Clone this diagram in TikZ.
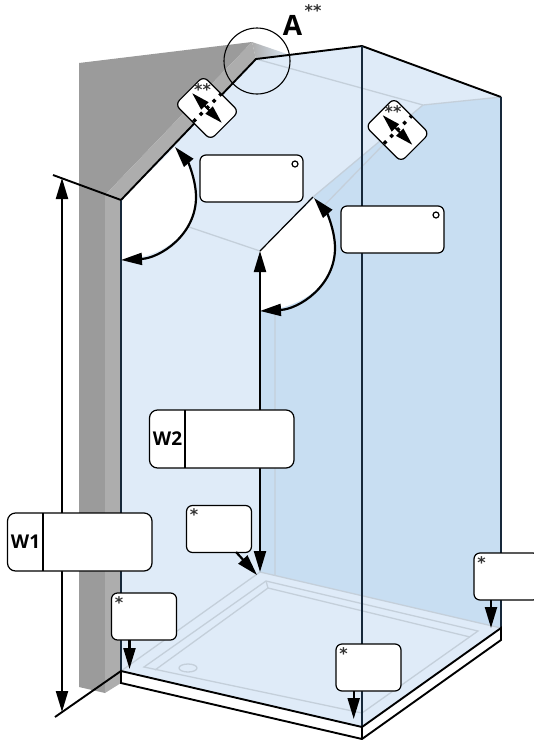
\documentclass[tikz,border=0pt]{standalone}
\usepackage{fontspec}
\setmainfont{Open Sans}
\newfontfamily\etoiles{DejaVu Sans}
\usetikzlibrary{arrows.meta}
\definecolor{murfonce}{HTML}{9B9B9B}
\definecolor{murclair}{HTML}{ADADAD}
\definecolor{verreclair}{HTML}{DFEBF8}
\definecolor{verrefonce}{HTML}{C8DEF2}
\definecolor{trait}{HTML}{C4CFDA}
\definecolor{arete}{HTML}{16283A}
\begin{document}
\begin{tikzpicture}[x=1pt,y=-1pt]
	\tikzstyle{fleche}=[->,>={Triangle[length=21pt,width=12pt]},line width=2.2pt]
	\tikzstyle{double}=[<->,>={Triangle[length=18pt,width=10pt]},line width=1.8pt,shorten <=4pt,shorten >=4pt]
	\tikzstyle{bord}=[line width=1.9pt]
	\tikzstyle{fin}=[line width=1.3pt,color=arete]
	\tikzstyle{gris}=[line width=1.3pt,color=trait]
	\tikzstyle{cadre}=[draw=black,fill=white,line width=1.2pt,rounded corners=6pt,inner sep=0pt,outer sep=0pt]
	\tikzstyle{titre}=[font=\bfseries\fontsize{19}{19}\selectfont,inner sep=0pt]
	\tikzstyle{etoile}=[font=\etoiles\bfseries\fontsize{16}{16}\selectfont,text=black!80,inner sep=0pt]
	\tikzstyle{anneau}=[circle,draw=black,fill=white,line width=1.2pt,minimum size=6pt,inner sep=0pt]
	%
	\useasboundingbox (0,0) rectangle (534,740);
	%
	\coordinate (Ga) at (121,200);\coordinate (Gb) at (256,59);\coordinate (Gc) at (362,46);
	\coordinate (Gd) at (501,97);\coordinate (Ge) at (501,628);\coordinate (Gf) at (362,727);
	\coordinate (Gg) at (121,671);\coordinate (Bd) at (501,640);\coordinate (Bf) at (362,739);
	\coordinate (Bg) at (121,683);\coordinate (Porte) at (260,251);\coordinate (PorteB) at (313,197);
	\coordinate (Fond) at (423,105);\coordinate (Sol) at (260,572);
	\coordinate (HautA) at (53,175);\coordinate (BasA) at (55,717);
	\coordinate (TipHaut) at (62,178);\coordinate (TipBas) at (62,712);
	\coordinate (TipS) at (257,575);\coordinate (TipB) at (129.5,669);
	\coordinate (TipC) at (353.7,719);\coordinate (TipD) at (491,628);
	\coordinate (DepartS) at (236,552);
	%
	\fill[murfonce] (79,63)--(252,42)--(105,195)--(105,693)--(79,687)--cycle;
	\fill[murclair] (252,42)--(Gb)--(Ga)--(Bg)--(105,693)--(105,195)--cycle;
	\fill[verreclair] (Ga)--(Gb)--(Gc)--(Gd)--(Ge)--(Gf)--(Gg)--cycle;
	\shade[left color=murclair,right color=verreclair] (252,42)--(290,55)--(Gb)--cycle;
	\fill[verrefonce] (Porte)--(PorteB)--(Fond)--(Gd)--(Ge)--(Sol)--cycle;
	%
	\draw[gris] (Gb)--(Fond)--(Gd);
	\draw[gris] (PorteB)--(Fond);
	\draw[gris] (189,227)--(Porte);
	\draw[gris] (275,575)--(275,256)--(383,145);
	\draw[gris] (Gg)--(Sol)--(Ge);
	\draw[gris] (266,581)--(144,667)--(362,713)--(478,631)--cycle;
	\draw[gris] (266,581)--(268,588)--(155,670);
	\draw[gris] (268,588)--(470,637);
	\draw[gris] (188,668) ellipse (9 and 4);
	%
	\foreach \dx/\dy in {0/0,139/51}{
		\begin{scope}[shift={(\dx,\dy)}]
			\fill[white] (121,200)--(175,147) .. controls (188,162) and (196,180) .. (196,197) .. controls (196,235) and (160,258) .. (121,260)--cycle;
			\draw[fleche,<->] (175,147) .. controls (188,162) and (196,180) .. (196,197) .. controls (196,235) and (160,258) .. (121,260);
		\end{scope}
	}
	%
	\draw[bord] (Ga)--(Gb)--(Gc)--(Gd);
	\draw[fin] (Ga)--(Gg);
	\draw[fin] (Gd)--(Ge);
	\draw[fin] (Gc)--(Gf);
	\draw[line width=1.2pt] (Porte)--(PorteB);
	\draw[bord] (Gg)--(Gf)--(Ge)--(Bd)--(Bf)--(Bg)--cycle;
	\draw[bord] (Gf)--(Bf);
	\draw[bord] (HautA)--(Ga);
	\draw[bord] (BasA)--(Gg);
	\draw[line width=1.1pt] (257,61) circle (33);
	%
	\draw[fleche,<->] (TipHaut)--(TipBas);
	\draw[fleche,<->] (Porte)--(Sol);
	%
	\node[cadre,minimum width=144.5pt,minimum height=58pt,rounded corners=8pt] (W1) at (79.75,542) {};
	\node[cadre,minimum width=144.5pt,minimum height=58pt,rounded corners=8pt] (W2) at (221.75,439) {};
	\node[titre] (NomW1) at (25.5,542) {W1};
	\node[titre] (NomW2) at (167.5,439) {W2};
	\draw[line width=1.2pt] ([xshift=35.5pt]W1.north west)--([xshift=35.5pt]W1.south west);
	\draw[line width=1.2pt] ([xshift=35.5pt]W2.north west)--([xshift=35.5pt]W2.south west);
	%
	\node[cadre,minimum width=103pt,minimum height=47pt] (PlaqueA) at (251.5,178.5) {};
	\node[cadre,minimum width=103pt,minimum height=47pt] (PlaqueB) at (392.5,229.5) {};
	\node[anneau] (AnneauA) at (295,164) {};
	\node[anneau] (AnneauB) at (436,215) {};
	%
	\foreach \nom/\x/\y in {BoiteS/219/529,BoiteB/144/616.5,BoiteC/368.5/667.5,BoiteD/506.5/576.5}{
		\node[cadre,minimum width=65pt,minimum height=47pt] (\nom) at (\x,\y) {};
		\node[etoile] (Etoile\nom) at ([xshift=7.5pt,yshift=-9.5pt]\nom.north west) {*};
	}
	\draw[fleche] (DepartS)--(TipS);
	\draw[fleche] (BoiteB.south -| TipB)--(TipB);
	\draw[fleche] (BoiteC.south -| TipC)--(TipC);
	\draw[fleche] (BoiteD.south -| TipD)--(TipD);
	%
	\foreach \nom/\x/\y in {JointA/207/108,JointB/397.5/130}{
		\node[cadre,rotate=-45,minimum width=50pt,minimum height=40pt] (\nom) at (\x,\y) {};
		\draw[line width=3.4pt,dash pattern=on 3.4pt off 5.8pt,dash phase=1pt] (\nom.north)--(\nom.south);
		\draw[double] (\nom.west)--(\nom.east);
		\node[etoile] (Etoile\nom) at ([xshift=-4.5pt,yshift=18pt]\nom.center) {**};
	}
	%
	\node[font=\bfseries\fontsize{28}{28}\selectfont,inner sep=0pt] (DetailA) at (292.5,25) {A};
	\node[etoile] (EtoileA) at (313,11) {**};
\end{tikzpicture}
\end{document}
